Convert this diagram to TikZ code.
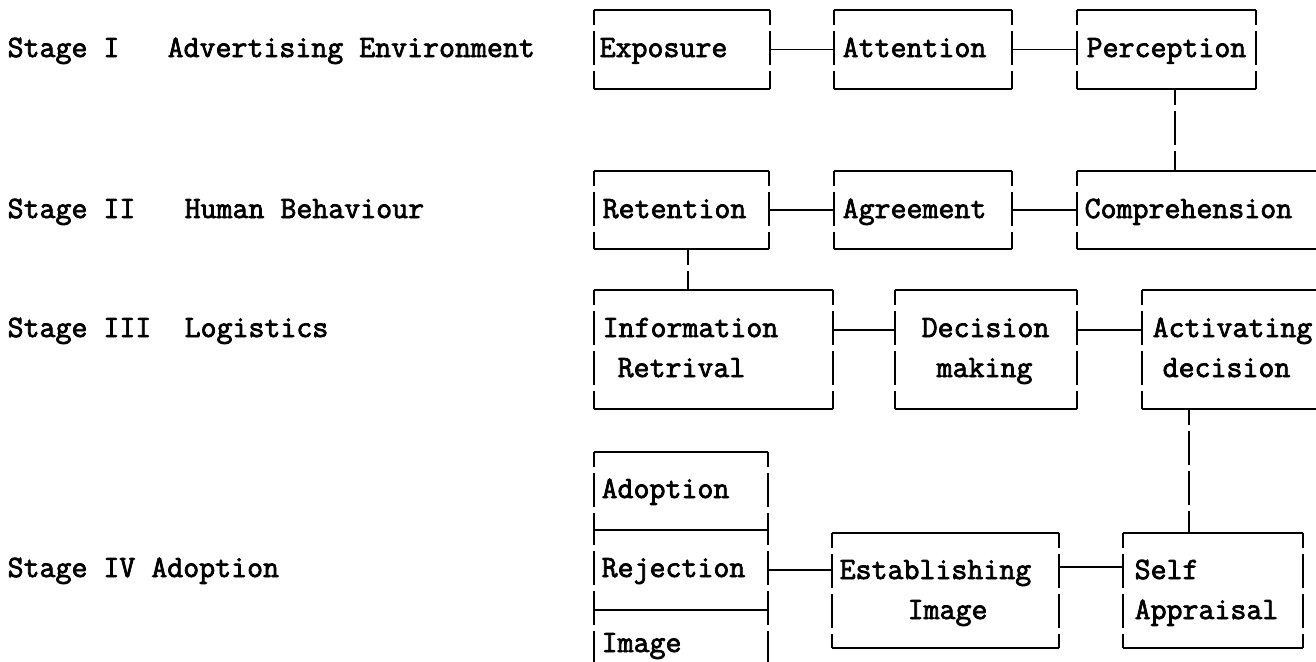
\documentclass[tikz,border=0pt]{standalone}
\usepackage{fontspec}
\usetikzlibrary{fit}
\newfontfamily\tw[FakeBold=2.4]{Latin Modern Mono}

% typed box: solid top and bottom rules, sides broken like typed bars
\newcommand\typedbox[1]{%
  \draw (#1.north west) -- (#1.north east);
  \draw (#1.south west) -- (#1.south east);
  \draw[side] (#1.north west) -- (#1.south west);
  \draw[side] (#1.north east) -- (#1.south east);
}

\begin{document}
\begin{tikzpicture}[x=1pt, y=-1pt, line width=1.3pt,
  frame/.style={draw=none, inner sep=0pt, outer sep=0pt},
  side/.style={dash pattern=on 34pt off 6pt, dash phase=19pt},
  vlink/.style={dash pattern=on 34pt off 6pt, dash phase=18pt},
  txt/.style={inner sep=0pt, anchor=base west, font=\tw\fontsize{31}{31}\selectfont}]

\fill[white] (0,0) rectangle (1316,661);
\useasboundingbox (0,0) rectangle (1316,661);

% stage labels
\node[txt] (s1)  at (7,57)    {Stage I};
\node[txt] (s1d) at (167,57)  {Advertising Environment};
\node[txt] (s2)  at (7,218)   {Stage II};
\node[txt] (s2d) at (184,218) {Human Behaviour};
\node[txt] (s3)  at (7,337)   {Stage III};
\node[txt] (s3d) at (184,337) {Logistics};
\node[txt] (s4)  at (7,577)   {Stage IV Adoption};

% stage I
\node[frame, fit={(594,10) (770,89)}]    (expo) {};
\node[frame, fit={(834,10) (1012,89)}]   (atte) {};
\node[frame, fit={(1077,10) (1256,89)}]  (perc) {};
% stage II
\node[frame, fit={(594,171) (769,249)}]  (rete) {};
\node[frame, fit={(834,171) (1012,249)}] (agre) {};
\node[frame, fit={(1077,171) (1340,249)}] (comp) {};
% stage III
\node[frame, fit={(594,290) (833,409)}]  (info) {};
\node[frame, fit={(895,290) (1077,409)}] (deci) {};
\node[frame, fit={(1142,290) (1340,409)}] (acti) {};
% stage IV
\node[frame, fit={(594,452) (768,530)}]  (adop) {};
\node[frame, fit={(594,530) (768,610)}]  (reje) {};
\node[frame, fit={(594,610) (768,690)}]  (imag) {};
\node[frame, fit={(832,533) (1059,648)}] (esta) {};
\node[frame, fit={(1123,533) (1303,648)}] (self) {};

\typedbox{expo} \typedbox{atte} \typedbox{perc}
\typedbox{rete} \typedbox{agre} \typedbox{comp}
\typedbox{info} \typedbox{deci} \typedbox{acti}
\typedbox{adop} \typedbox{reje} \typedbox{imag}
\typedbox{esta} \typedbox{self}

% box texts
\node[txt] (t1)  at (599,57)   {Exposure};
\node[txt] (t2)  at (842,57)   {Attention};
\node[txt] (t3)  at (1086,57)  {Perception};
\node[txt] (t4)  at (602,218)  {Retention};
\node[txt] (t5)  at (842,218)  {Agreement};
\node[txt] (t6)  at (1084,218) {Comprehension};
\node[txt] (t7)  at (602,337)  {Information};
\node[txt] (t7b) at (617,377)  {Retrival};
\node[txt] (t8)  at (921,337)  {Decision};
\node[txt] (t8b) at (936,377)  {making};
\node[txt] (t9)  at (1152,337) {Activating};
\node[txt] (t9b) at (1162,377) {decision};
\node[txt] (t10) at (601,498)  {Adoption};
\node[txt] (t11) at (601,577)  {Rejection};
\node[txt] (t12) at (601,652)  {Image};
\node[txt] (t13) at (839,579)  {Establishing};
\node[txt] (t13b) at (907,619) {Image};
\node[txt] (t14) at (1134,579) {Self};
\node[txt] (t14b) at (1134,619) {Appraisal};

% horizontal links
\draw (expo.east) -- (atte.west);
\draw (atte.east) -- (perc.west);
\draw (rete.east) -- (agre.west);
\draw (agre.east) -- (comp.west);
\draw ([yshift=-40pt]info.north east) -- ([yshift=-40pt]deci.north west);
\draw ([yshift=-40pt]deci.north east) -- ([yshift=-40pt]acti.north west);
\draw (reje.east) -- (reje.east -| esta.west);
\draw ([yshift=-34pt]esta.north east) -- ([yshift=-34pt]self.north west);

% vertical links
\draw[vlink] ([xshift=8.5pt]perc.south) -- ([xshift=8.5pt]perc.south |- comp.north);
\draw[vlink] ([xshift=6.5pt]rete.south) -- ([xshift=6.5pt]rete.south |- info.north);
\draw[vlink] ([xshift=-24pt]self.north |- acti.south) -- ([xshift=-24pt]self.north);
\end{tikzpicture}
\end{document}
